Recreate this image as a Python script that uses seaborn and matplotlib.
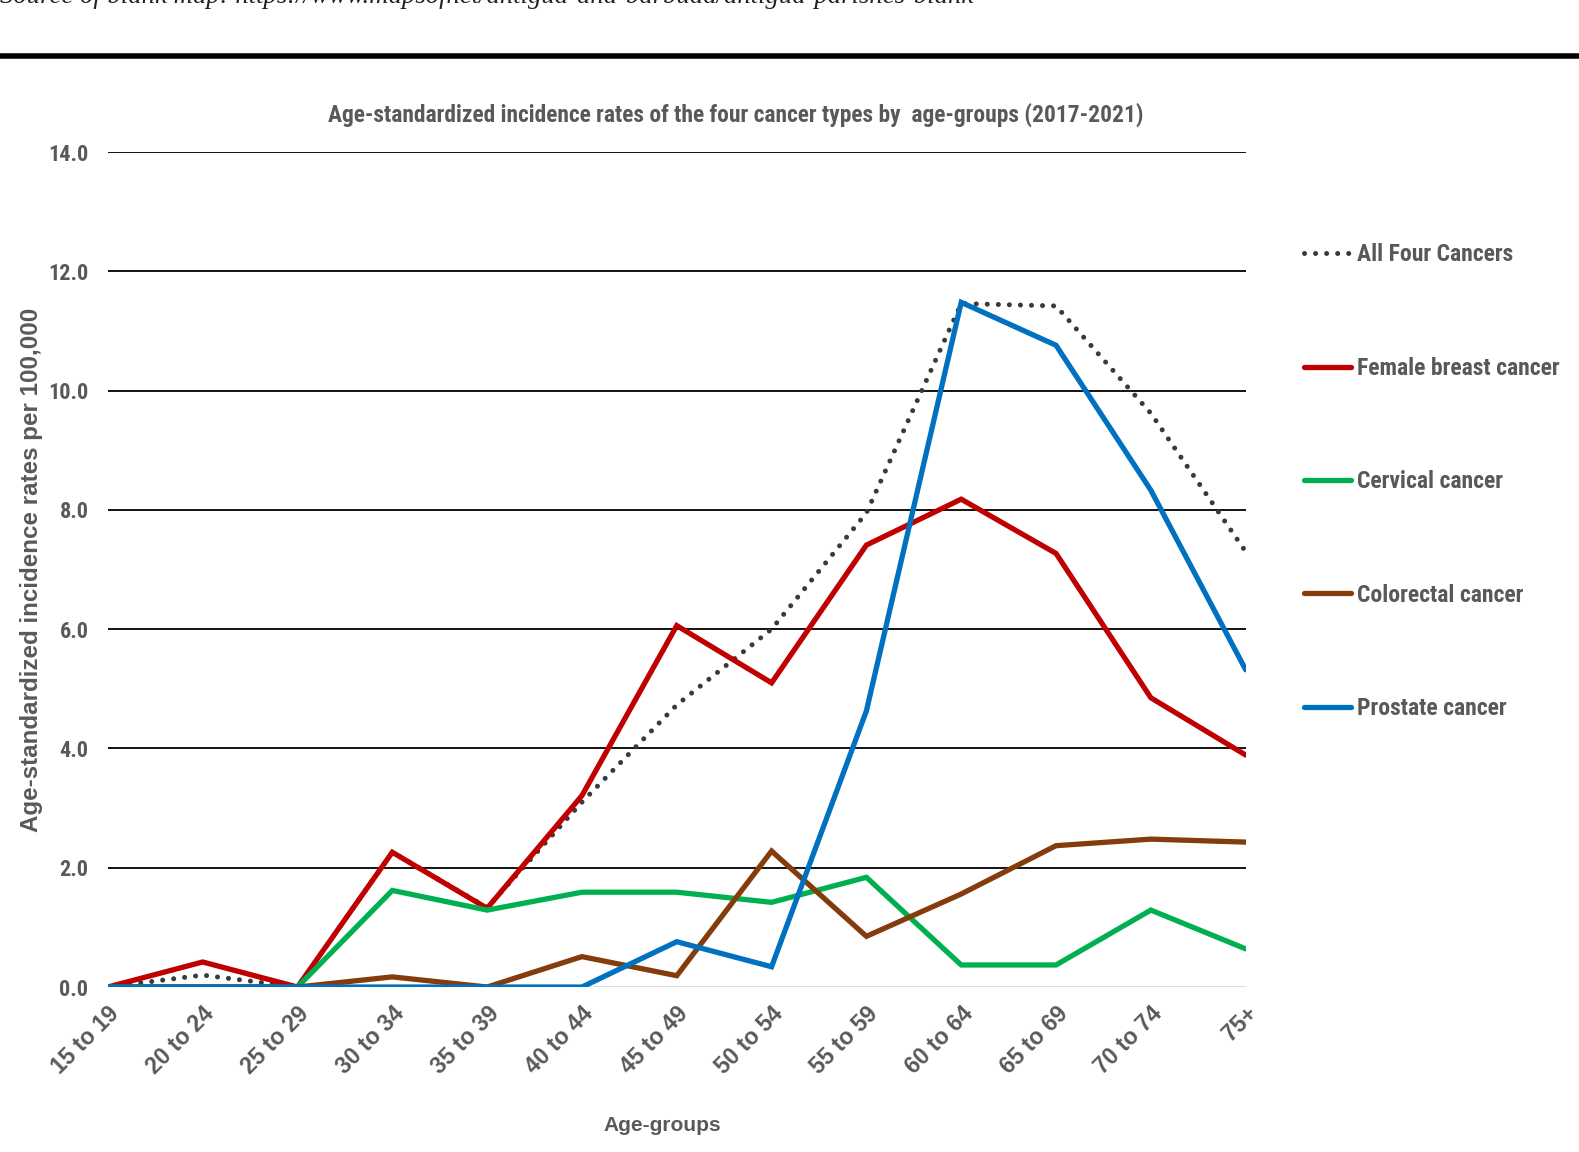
import numpy as np
import pandas as pd
import matplotlib
matplotlib.use("Agg")
import matplotlib.pyplot as plt
from matplotlib.lines import Line2D
import seaborn as sns

age_groups = ["15 to 19", "20 to 24", "25 to 29", "30 to 34", "35 to 39", "40 to 44",
              "45 to 49", "50 to 54", "55 to 59", "60 to 64", "65 to 69", "70 to 74", "75+"]
all_four = [0.0, 0.20, 0.0, 2.26, 1.33, 3.10, 4.73, 6.00, 7.95, 11.46, 11.42, 9.62, 7.30]
breast = [0.0, 0.42, 0.0, 2.26, 1.32, 3.21, 6.06, 5.10, 7.41, 8.18, 7.27, 4.85, 3.89]
cervical = [0.0, 0.0, 0.0, 1.62, 1.29, 1.59, 1.59, 1.42, 1.84, 0.37, 0.37, 1.29, 0.64]
colorectal = [0.0, 0.0, 0.0, 0.17, 0.0, 0.51, 0.19, 2.28, 0.85, 1.56, 2.37, 2.48, 2.43]
prostate = [0.0, 0.0, 0.0, 0.0, 0.0, 0.0, 0.76, 0.34, 4.63, 11.48, 10.76, 8.33, 5.32]

series_names = ["All Four Cancers", "Female breast cancer", "Cervical cancer",
                "Colorectal cancer", "Prostate cancer"]
series_values = [all_four, breast, cervical, colorectal, prostate]
series_colors = ["#3a3a3a", "#C00000", "#00B050", "#843C0C", "#0070C0"]
y_ticks = [0.0, 2.0, 4.0, 6.0, 8.0, 10.0, 12.0, 14.0]

sns.set_theme(style="white")
narrow = ["Liberation Sans Narrow", "Arial Narrow", "Roboto Condensed", "Liberation Sans", "DejaVu Sans"]
wide = ["Liberation Sans", "Arimo", "DejaVu Sans"]
plt.rcParams["font.family"] = narrow
grey = "#595959"

frames = []
for name, vals in zip(series_names, series_values):
    frames.append(pd.DataFrame({"pos": np.arange(len(age_groups)), "rate": vals, "series": name}))
df = pd.concat(frames, ignore_index=True)

fig = plt.figure(figsize=(15.79, 11.52), dpi=100)
ax = fig.add_axes([0.0683, 0.1432, 0.7206, 0.7248])

for name, color in zip(series_names, series_colors):
    sub = df[df["series"] == name]
    if name == "All Four Cancers":
        sns.lineplot(data=sub, x="pos", y="rate", ax=ax, color=color, lw=3.6,
                     linestyle=(0, (0.01, 2.2)), dash_capstyle="round",
                     solid_capstyle="round", label=name, sort=False, zorder=3)
    else:
        sns.lineplot(data=sub, x="pos", y="rate", ax=ax, color=color, lw=3.8,
                     label=name, sort=False, zorder=4, solid_joinstyle="miter")

ax.set_xlim(0, len(age_groups) - 1)
ax.set_ylim(0, 14)
ax.set_yticks(y_ticks)
ax.set_yticklabels([f"{v:.1f}" for v in y_ticks], fontsize=16, color=grey,
                   fontweight="bold", family=narrow)
ax.set_xticks(np.arange(len(age_groups)))
ax.set_xticklabels(age_groups, rotation=45, ha="right", rotation_mode="anchor",
                   fontsize=16.5, color=grey, fontweight="bold", family=wide)
ax.tick_params(axis="both", length=0)
ax.tick_params(axis="y", pad=14)
ax.tick_params(axis="x", pad=11)

for s in ["left", "right", "top", "bottom"]:
    ax.spines[s].set_visible(False)
ax.yaxis.grid(True, color="black", lw=1.3)
ax.xaxis.grid(False)
ax.set_axisbelow(True)
ax.get_ygridlines()[0].set_color("#d9d9d9")
ax.get_ygridlines()[0].set_linewidth(2)

ax.set_xlabel("Age-groups", fontsize=15, color=grey, fontweight="bold", family=wide)
ax.xaxis.set_label_coords(0.487, -0.155)
ax.set_ylabel("Age-standardized incidence rates per 100,000", fontsize=17.4, color=grey,
              fontweight="bold", family=wide)
ax.yaxis.set_label_coords(-0.0567, 0.5)

fig.text(736 / 1579, 1 - 115 / 1152,
         "Age-standardized incidence rates of the four cancer types by  age-groups (2017-2021)",
         ha="center", va="center", fontsize=16.9, color=grey, fontweight="bold", family=narrow)

leg = ax.legend(loc="upper left", bbox_to_anchor=(1.043, 0.902), frameon=False,
                fontsize=17, handlelength=2.0, handletextpad=0.25, labelspacing=3.83,
                borderaxespad=0)
for t in leg.get_texts():
    t.set_color(grey)
    t.set_fontweight("bold")
    t.set_family(narrow)

# source note from the page above, cut at the top edge
fig.text(0.0, 1 - 3 / 1152,
         "Source of blank map: https://www.mapsofnet/antigua-and-barbuda/antigua-parishes-blank",
         ha="left", va="baseline", fontsize=19.3, style="italic", color="#222222",
         family=["Liberation Serif", "DejaVu Serif"])
fig.add_artist(Line2D([0, 1], [1 - 56 / 1152, 1 - 56 / 1152], color="black", lw=4,
                      transform=fig.transFigure))

fig.savefig("out.png", dpi=100)
